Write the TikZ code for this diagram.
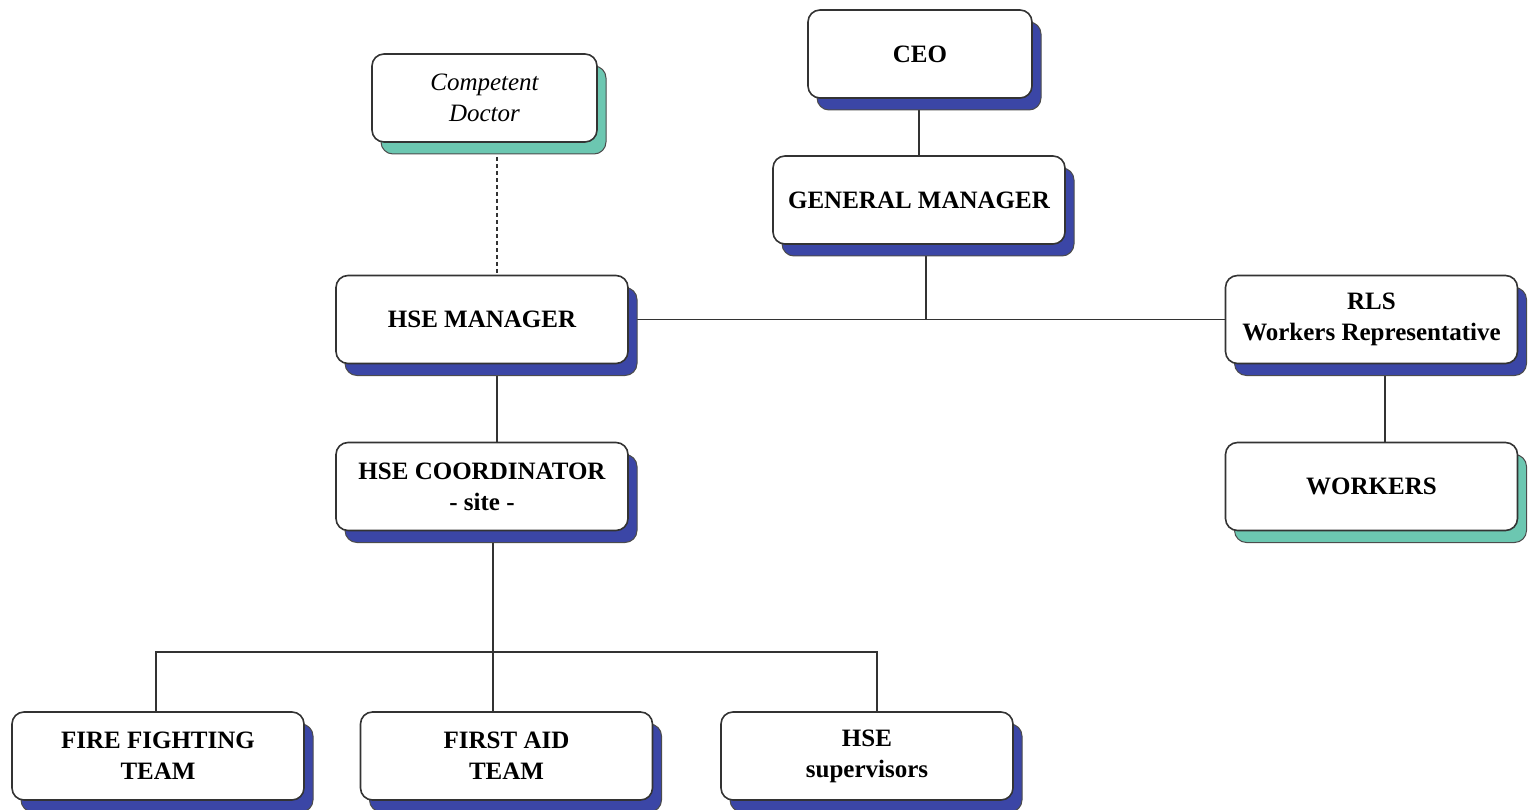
\documentclass[tikz,border=0pt]{standalone}
\usepackage{fontspec}
\setmainfont{Liberation Serif}
\usetikzlibrary{shadows,backgrounds}
\definecolor{shblue}{HTML}{3B46A6}
\definecolor{shteal}{HTML}{6CC7B1}
\tikzset{
  box/.style={draw=black!80, line width=1.6pt, rounded corners=12pt, fill=white,
    minimum width=292pt, minimum height=88pt, align=center, inner sep=2pt,
    font=\fontsize{25}{31}\selectfont\bfseries},
  blueshadow/.style={general shadow={shadow xshift=9pt, shadow yshift=-12pt, fill=shblue, draw=black!70, line width=1pt}},
  tealshadow/.style={general shadow={shadow xshift=9pt, shadow yshift=-12pt, fill=shteal, draw=black!70, line width=1pt}},
  link/.style={draw=black!80, line width=1.3pt},
}
\begin{document}
\begin{tikzpicture}[x=1pt,y=-1pt]
\useasboundingbox (0,0) rectangle (1529,810);
\node[box, tealshadow, minimum width=225pt, font=\fontsize{25}{31}\selectfont\itshape] (doc) at (484.5,98) {Competent\\Doctor};
\node[box, blueshadow, minimum width=224pt] (ceo) at (920,54) {CEO};
\node[box, blueshadow] (gm) at (919,200) {GENERAL MANAGER};
\node[box, blueshadow] (hsem) at (482,319.5) {HSE MANAGER};
\node[box, blueshadow] (rls) at (1371.5,319.5) {RLS\\Workers Representative};
\node[box, tealshadow] (wk) at (1371.5,486.5) {WORKERS};
\node[box, blueshadow] (coord) at (482,486.5) {HSE COORDINATOR\\- site -};
\node[box, blueshadow] (fire) at (158,756) {FIRE FIGHTING\\TEAM};
\node[box, blueshadow] (aid) at (506.5,756) {FIRST AID\\TEAM};
\node[box, blueshadow] (sup) at (867,756) {HSE\\supervisors};
\coordinate (bus) at (926,319);
\coordinate (fork) at (493,652);
\begin{scope}[on background layer]
\draw[link] (ceo.south -| 919,0) -- (gm.north -| 919,0);
\draw[link] (gm.south -| bus) -- (bus);
\draw[link] (hsem.east) -- (rls.west);
\draw[link, dashed, dash pattern=on 4pt off 3pt] (doc.south -| 497,0) -- ([yshift=-4pt]hsem.north -| 497,0);
\draw[link] (hsem.south -| 497,0) -- (coord.north -| 497,0);
\draw[link] (coord.south -| fork) -- (aid.north -| fork);
\draw[link] (fire.north -| 156,0) -- (156,652) -- (877,652) -- (sup.north -| 877,0);
\draw[link] (rls.south -| 1385,0) -- (wk.north -| 1385,0);
\end{scope}
\end{tikzpicture}
\end{document}
